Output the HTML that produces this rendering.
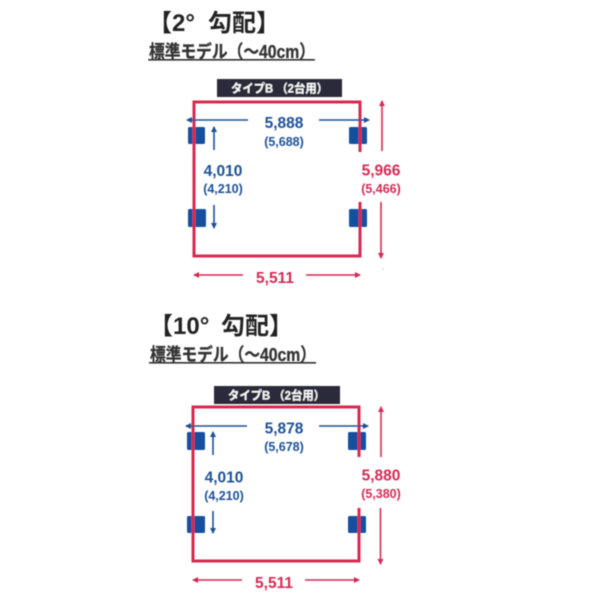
<!DOCTYPE html>
<html><head><meta charset="utf-8">
<style>
html,body{margin:0;padding:0;background:#fff;width:600px;height:600px;overflow:hidden}
svg{display:block}
text{font-family:"Liberation Sans","Noto Sans CJK JP",sans-serif}
.t{font-size:24px;font-weight:700;fill:#222}
.s{font-size:18px;font-weight:700;fill:#333;stroke:#333;stroke-width:.3}
.b{font-size:12px;font-weight:700;fill:#fff}
.bl{fill:#1f5096;font-weight:700;text-anchor:middle}
.rd{fill:#d42a55;font-weight:700;text-anchor:middle}
.m{font-size:15.5px}.n{font-size:12.5px}
</style></head><body>
<svg width="600" height="600" viewBox="0 0 600 600" xmlns="http://www.w3.org/2000/svg">
<defs>
<filter id="f" x="0" y="0" width="1" height="1"><feGaussianBlur stdDeviation="0.45"/></filter>
<marker id="ab" markerWidth="6" markerHeight="6" refX="5" refY="3" orient="auto-start-reverse" markerUnits="userSpaceOnUse"><path d="M0 0L6 3L0 6Z" fill="#1f5096"/></marker>
<marker id="ar" markerWidth="6" markerHeight="6" refX="5" refY="3" orient="auto-start-reverse" markerUnits="userSpaceOnUse"><path d="M0 0L6 3L0 6Z" fill="#d42a55"/></marker>
</defs>
<g filter="url(#f)">
<!-- top diagram -->
<text class="t" x="148" y="31">【2°</text><text class="t" x="208" y="31">勾配】</text>
<text class="s" x="149" y="58" textLength="166" lengthAdjust="spacingAndGlyphs">標準モデル（～40cm）</text>
<rect x="148" y="59" width="167" height="1.6" fill="#333"/>
<rect x="217" y="79" width="125" height="18" fill="#2b2c3a"/>
<text class="b" x="231" y="92.500" textLength="97" lengthAdjust="spacingAndGlyphs">タイプB （2台用）</text>
<rect x="188" y="127" width="17" height="17" rx="1.5" fill="#12509e"/>
<rect x="349" y="127" width="18" height="17" rx="1.5" fill="#12509e"/>
<rect x="188" y="209" width="18" height="18" rx="1.5" fill="#12509e"/>
<rect x="349" y="209" width="18" height="18" rx="1.5" fill="#12509e"/>
<path d="M360 152V102H194V256H360V202" fill="none" stroke="#d9294f" stroke-width="3"/>
<line x1="248" y1="120" x2="187" y2="120" stroke="#1f5096" stroke-width="1.6" marker-end="url(#ab)"/>
<line x1="319" y1="120" x2="369" y2="120" stroke="#1f5096" stroke-width="1.6" marker-end="url(#ab)"/>
<line x1="214" y1="150" x2="214" y2="127" stroke="#1f5096" stroke-width="1.6" marker-end="url(#ab)"/>
<line x1="214" y1="205" x2="214" y2="228" stroke="#1f5096" stroke-width="1.6" marker-end="url(#ab)"/>
<line x1="382" y1="151" x2="382" y2="101" stroke="#d42a55" stroke-width="1.6" marker-end="url(#ar)"/>
<line x1="381" y1="202" x2="381" y2="258" stroke="#d42a55" stroke-width="1.6" marker-end="url(#ar)"/>
<line x1="243" y1="275" x2="194" y2="275" stroke="#d42a55" stroke-width="1.6" marker-end="url(#ar)"/>
<line x1="306" y1="275" x2="360" y2="275" stroke="#d42a55" stroke-width="1.6" marker-end="url(#ar)"/>
<circle cx="383" cy="269" r=".8" fill="#d8c8c8"/>
<text class="bl m" x="284" y="128">5,888</text><text class="bl n" x="284" y="146">(5,688)</text>
<text class="bl m" x="223" y="176">4,010</text><text class="bl n" x="223" y="193">(4,210)</text>
<text class="rd m" x="381" y="175.500">5,966</text><text class="rd n" x="381" y="193">(5,466)</text>
<text class="rd m" x="275" y="283">5,511</text>
<!-- bottom diagram -->
<text class="t" x="149" y="334">【10°</text><text class="t" x="221" y="334">勾配】</text>
<text class="s" x="150" y="361" textLength="166" lengthAdjust="spacingAndGlyphs">標準モデル（～40cm）</text>
<rect x="149" y="362" width="167" height="1.6" fill="#333"/>
<rect x="214" y="386" width="126" height="18" fill="#2b2c3a"/>
<text class="b" x="228" y="399.500" textLength="97" lengthAdjust="spacingAndGlyphs">タイプB （2台用）</text>
<rect x="187" y="432" width="18" height="18" rx="1.5" fill="#12509e"/>
<rect x="348" y="432" width="18" height="18" rx="1.5" fill="#12509e"/>
<rect x="187" y="516" width="18" height="17" rx="1.5" fill="#12509e"/>
<rect x="348" y="516" width="18" height="17" rx="1.5" fill="#12509e"/>
<path d="M359 457V407H193V561H359V508" fill="none" stroke="#d9294f" stroke-width="3"/>
<line x1="247" y1="426" x2="186" y2="426" stroke="#1f5096" stroke-width="1.6" marker-end="url(#ab)"/>
<line x1="319" y1="426" x2="368" y2="426" stroke="#1f5096" stroke-width="1.6" marker-end="url(#ab)"/>
<line x1="213" y1="455" x2="213" y2="432" stroke="#1f5096" stroke-width="1.6" marker-end="url(#ab)"/>
<line x1="213" y1="511" x2="213" y2="533" stroke="#1f5096" stroke-width="1.6" marker-end="url(#ab)"/>
<line x1="381" y1="457" x2="381" y2="407" stroke="#d42a55" stroke-width="1.6" marker-end="url(#ar)"/>
<line x1="380.500" y1="508" x2="380.500" y2="564" stroke="#d42a55" stroke-width="1.6" marker-end="url(#ar)"/>
<line x1="242" y1="580" x2="193" y2="580" stroke="#d42a55" stroke-width="1.6" marker-end="url(#ar)"/>
<line x1="305" y1="580" x2="359" y2="580" stroke="#d42a55" stroke-width="1.6" marker-end="url(#ar)"/>
<text class="bl m" x="284" y="433.500">5,878</text><text class="bl n" x="284" y="451">(5,678)</text>
<text class="bl m" x="224" y="482.500">4,010</text><text class="bl n" x="224" y="500">(4,210)</text>
<text class="rd m" x="381" y="480.500">5,880</text><text class="rd n" x="381" y="498">(5,380)</text>
<text class="rd m" x="274" y="588">5,511</text>
</g>
</svg>
</body></html>
